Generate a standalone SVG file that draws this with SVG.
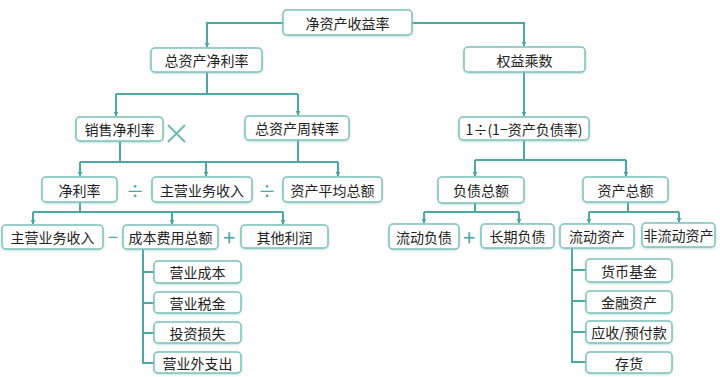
<svg xmlns="http://www.w3.org/2000/svg" width="720" height="377" viewBox="0 0 720 377">
<defs>
<marker id="ah" viewBox="0 0 6 6" refX="5" refY="3" markerWidth="5" markerHeight="5" orient="auto" markerUnits="userSpaceOnUse">
<path d="M0,0 L6,3 L0,6 z" fill="#4aa8a6"/>
</marker>
<filter id="sh" x="-10%" y="-20%" width="120%" height="150%">
<feDropShadow dx="0" dy="1" stdDeviation="0.8" flood-color="#7fbfbc" flood-opacity="0.5"/>
</filter>
</defs>
<style>
.b rect{fill:#fff;stroke:#7dc1bd;stroke-width:1.5;filter:url(#sh)}
.b text{font-family:"Noto Sans CJK SC","Noto Sans",sans-serif;font-size:14px;fill:#222;text-anchor:middle;dominant-baseline:central}
.c path{fill:none;stroke:#4aa8a6;stroke-width:2}
.c path.a{marker-end:url(#ah)}
.op{font-family:"Noto Sans CJK SC","Noto Sans",sans-serif;fill:#4aa8a6;text-anchor:middle;dominant-baseline:central}
</style>
<rect width="720" height="377" fill="#fff"/>
<g class="c" id="connectors">
<path class="a" d="M283,23 H207 V47"/>
<path class="a" d="M412,23 H524 V46"/>
<path d="M207,72 V94"/>
<path class="a" d="M116,94 V116"/>
<path class="a" d="M298,94 V115"/>
<path d="M116,94 H298"/>
<path class="a" d="M524,72 V116"/>
<path d="M120,141 V162"/>
<path d="M298,140 V162"/>
<path d="M80,162 H338"/>
<path class="a" d="M80,162 V176"/>
<path class="a" d="M206,162 V176"/>
<path class="a" d="M338,162 V176"/>
<path d="M524,140 V160 H475"/>
<path d="M524,160 H626"/>
<path class="a" d="M475,160 V176"/>
<path class="a" d="M626,160 V176"/>
<path d="M80,202 V212"/>
<path d="M33,212 H283"/>
<path class="a" d="M33,212 V224"/>
<path class="a" d="M172,212 V224"/>
<path class="a" d="M283,212 V224"/>
<path d="M475,203 V212"/>
<path d="M424,212 H519"/>
<path class="a" d="M424,212 V223"/>
<path class="a" d="M519,212 V223"/>
<path d="M628,202 V212"/>
<path d="M589,212 H679"/>
<path class="a" d="M589,212 V223"/>
<path class="a" d="M679,212 V222"/>
<path d="M143,249 V363 H154 M143,272 H154 M143,303 H154 M143,333 H154"/>
<path d="M572,248 V362 H586 M572,270 H586 M572,301 H586 M572,332 H586"/>
</g>
<g id="n-roe" class="b"><rect x="283" y="10" width="129" height="25" rx="4"/><text x="347.5" y="22.5">净资产收益率</text></g>
<g id="n-roa" class="b"><rect x="151" y="48" width="111" height="24" rx="4"/><text x="206.5" y="60">总资产净利率</text></g>
<g id="n-em" class="b"><rect x="464" y="47" width="121" height="25" rx="4"/><text x="524.5" y="59.5">权益乘数</text></g>
<g id="n-npm" class="b"><rect x="76" y="117" width="87" height="24" rx="4"/><text x="119.5" y="129">销售净利率</text></g>
<g id="op-x"><path d="M168,125 L185,142 M185,125 L168,142" stroke="#6cbcb8" stroke-width="2" fill="none"/></g>
<g id="n-tat" class="b"><rect x="245" y="116" width="104" height="24" rx="4"/><text x="297" y="128">总资产周转率</text></g>
<g id="n-dr" class="b"><rect x="459" y="117" width="130" height="23" rx="4"/><text x="524" y="128.5">1÷(1−资产负债率)</text></g>
<g id="n-nr" class="b"><rect x="42" y="177" width="75" height="25" rx="4"/><text x="79.5" y="189.5">净利率</text></g>
<text class="op" x="135" y="190" font-size="18">÷</text>
<g id="n-rev1" class="b"><rect x="152" y="177" width="100" height="25" rx="4"/><text x="202" y="189.5">主营业务收入</text></g>
<text class="op" x="267" y="190" font-size="18">÷</text>
<g id="n-ata" class="b"><rect x="283" y="177" width="99" height="25" rx="4"/><text x="332.5" y="189.5">资产平均总额</text></g>
<g id="n-tl" class="b"><rect x="438" y="177" width="86" height="26" rx="4"/><text x="481" y="190">负债总额</text></g>
<g id="n-ta" class="b"><rect x="583" y="177" width="85" height="25" rx="4"/><text x="625.5" y="189.5">资产总额</text></g>
<g id="n-rev2" class="b"><rect x="2" y="225" width="101" height="24" rx="4"/><text x="52.5" y="237">主营业务收入</text></g>
<text class="op" x="113" y="236" font-size="18">−</text>
<g id="n-cost" class="b"><rect x="123" y="225" width="95" height="24" rx="4"/><text x="170.5" y="237">成本费用总额</text></g>
<text class="op" x="229" y="236" font-size="22">+</text>
<g id="n-op" class="b"><rect x="241" y="225" width="87" height="23" rx="4"/><text x="284.5" y="236.5">其他利润</text></g>
<g id="n-cl" class="b"><rect x="389" y="224" width="70" height="25" rx="4"/><text x="424" y="236.5">流动负债</text></g>
<text class="op" x="469" y="236" font-size="22">+</text>
<g id="n-ltl" class="b"><rect x="481" y="224" width="73" height="24" rx="4"/><text x="517.5" y="236">长期负债</text></g>
<g id="n-ca" class="b"><rect x="560" y="224" width="74" height="24" rx="4"/><text x="597" y="236">流动资产</text></g>
<g id="n-nca" class="b"><rect x="642" y="223" width="73" height="24" rx="4"/><text x="678.5" y="235">非流动资产</text></g>
<g id="n-c1" class="b"><rect x="154" y="261" width="87" height="22" rx="4"/><text x="197.5" y="272">营业成本</text></g>
<g id="n-c2" class="b"><rect x="154" y="292" width="87" height="21" rx="4"/><text x="197.5" y="302.5">营业税金</text></g>
<g id="n-c3" class="b"><rect x="154" y="322" width="87" height="21" rx="4"/><text x="197.5" y="332.5">投资损失</text></g>
<g id="n-c4" class="b"><rect x="154" y="352" width="87" height="21" rx="4"/><text x="197.5" y="362.5">营业外支出</text></g>
<g id="n-a1" class="b"><rect x="586" y="259" width="86" height="23" rx="4"/><text x="629" y="270.5">货币基金</text></g>
<g id="n-a2" class="b"><rect x="586" y="291" width="86" height="22" rx="4"/><text x="629" y="302">金融资产</text></g>
<g id="n-a3" class="b"><rect x="586" y="321" width="86" height="22" rx="4"/><text x="629" y="332">应收/预付款</text></g>
<g id="n-a4" class="b"><rect x="586" y="352" width="86" height="21" rx="4"/><text x="629" y="362.5">存货</text></g>
</svg>
